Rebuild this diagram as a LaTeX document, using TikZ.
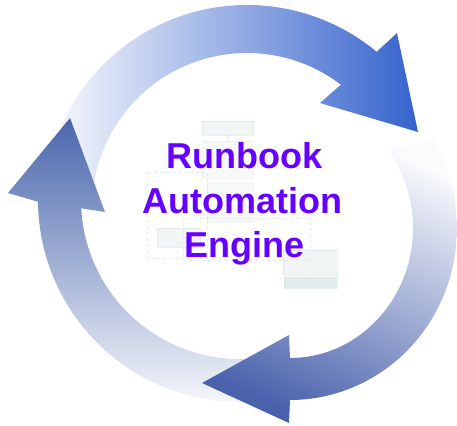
\documentclass[tikz,border=0pt]{standalone}
\usepackage{fontspec}
\setmainfont{Liberation Sans}
\definecolor{topblue}{HTML}{3563CC}
\definecolor{leftblue}{HTML}{4A66AC}
\definecolor{rightblue}{HTML}{4A62AC}
\definecolor{tailwhite}{HTML}{FAFBFD}
\definecolor{titlepurple}{HTML}{6600FF}
\definecolor{faintfill}{HTML}{E4ECEC}
\definecolor{faintline}{HTML}{D4DEDE}
\definecolor{faintbar}{HTML}{C4DCDC}
\begin{document}
\begin{tikzpicture}[x=1pt,y=-1pt,
  title/.style={font=\fontsize{36}{44}\selectfont\bfseries, text=titlepurple, anchor=base, inner sep=0pt},
  faintbox/.style={fill=faintfill, draw=faintline, line width=0.6pt, opacity=0.5},
  faintframe/.style={draw=faintline, dashed, line width=0.5pt, opacity=0.6},
  faintlink/.style={draw=faintline, line width=0.5pt, opacity=0.6},
]
\useasboundingbox (0,0) rectangle (457,425);
% faint flowchart behind the title
\draw[faintframe] (147,172) rectangle (207,258);
\draw[faintframe] (183,218) rectangle (310,260);
\draw[faintbox] (202,121) rectangle (253,135);
\draw[faintbox, opacity=0.3] (202,141) rectangle (253,178);
\draw[faintbox, opacity=0.3] (207,183) rectangle (253,200);
\draw[faintbox, opacity=0.3] (207,205) rectangle (253,222);
\draw[faintbox] (157,228) rectangle (200,247);
\draw[faintbox] (283,250) rectangle (337,275);
\draw[faintbox, fill=faintbar] (284,277) rectangle (337,288);
\draw[faintlink] (227,135) -- (227,141);
\draw[faintlink] (310,275) -- (310,277);
% top arrow
\shade[left color=tailwhite, right color=topblue]
  ([shift={(247,208)}]186:203) arc[start angle=186, end angle=309.7, radius=203]
  -- (397,33) -- (418,132) -- (320,103)
  -- ([shift={(247,208)}]307.3:155) arc[start angle=307.3, end angle=186, radius=155] -- cycle;
% left arrow
\shade[top color=leftblue, bottom color=tailwhite]
  ([shift={(240,200)}]80:202) arc[start angle=80, end angle=179.5, radius=202]
  -- (8,193) -- (70,118) -- (105,212)
  -- ([shift={(240,200)}]177:159) arc[start angle=177, end angle=80, radius=159] -- cycle;
% right / bottom arrow
\shade[top color=tailwhite, bottom color=rightblue, shading angle=-25]
  ([shift={(290,228)}]-31:167 and 172) arc[start angle=-31, end angle=90, x radius=167, y radius=172]
  -- (289,423) -- (202,383) -- (289,335)
  -- ([shift={(290,228)}]90:123 and 130) arc[start angle=90, end angle=-37, x radius=123, y radius=130] -- cycle;
% title
\node[title] (t1) at (244.5,168) {Runbook};
\node[title] (t2) at (242.5,213) {Automation};
\node[title] (t3) at (244,257) {Engine};
\end{tikzpicture}
\end{document}
